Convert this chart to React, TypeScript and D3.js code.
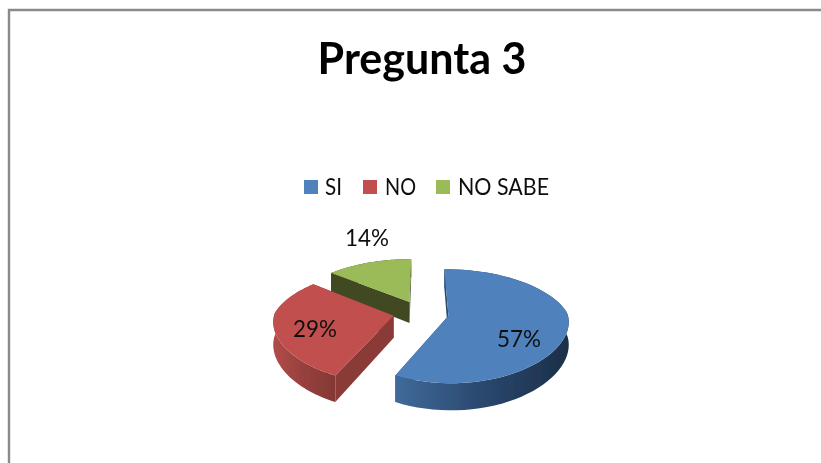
import React from "react";
import * as d3 from "d3";

const categories = ["SI", "NO", "NO SABE"];
const values = [57, 29, 14];
const labels = ["57%", "29%", "14%"];
const topColors = ["#4f81bd", "#c0504d", "#9bbb59"];
const sideColors = ["#2a4a72", "#8a3a38", "#3f4a22"];
const wallStops = [
  ["#406a9b", "#2a486e", "#1b2f48"],
  ["#b24c49", "#96403d", "#843835"],
  ["#3f4a22", "#3f4a22", "#3f4a22"],
];

const W = 821, H = 463;
const cx = 421, cy = 313, R = 119, explode = 28, tilt = 0.455, persp = 0.18, depth = 22;
const font = "Lato, Carlito, 'Open Sans', sans-serif";

const project = (X: number, Y: number, d = 0): [number, number] => {
  const w = 1 / (1 - (persp * Y) / R);
  const xw = w > 1 ? Math.sqrt(w) : w;
  return [cx + X * xw, cy + tilt * Y * w + d * w];
};

const line = d3.line<[number, number]>().curve(d3.curveLinearClosed);

export default function App() {
  const arcs = d3.pie<number>().sort(null).startAngle(0).endAngle(2 * Math.PI)(values);
  const slices = arcs.map((a, i) => {
    const mid = (a.startAngle + a.endAngle) / 2;
    const ex = explode * Math.sin(mid), ey = -explode * Math.cos(mid);
    const pt = (r: number, t: number): [number, number] => [r * Math.sin(t) + ex, -r * Math.cos(t) + ey];
    const angles = d3.range(0, 61).map(k => a.startAngle + ((a.endAngle - a.startAngle) * k) / 60);
    const rim = angles.map(t => pt(R, t));
    const apex = pt(0, 0);
    const top = [project(...apex), ...rim.map(p => project(...p))];
    const outerWall = [...rim.map(p => project(p[0], p[1])), ...rim.slice().reverse().map(p => project(p[0], p[1], depth))];
    const wall = (p: [number, number]) => [project(...apex), project(...p), project(p[0], p[1], depth), project(apex[0], apex[1], depth)];
    const startWall = wall(rim[0]);
    const endWall = wall(rim[rim.length - 1]);
    const xs = outerWall.map(p => p[0]);
    return { i, top, outerWall, startWall, endWall, x0: d3.min(xs)!, x1: d3.max(xs)! };
  });
  const drawOrder = [2, 1, 0];
  const labelPos: [number, number][] = [[519, 347], [315, 337], [367, 246]];
  const labelWidth = 44;
  const legendX = [304, 363, 436];
  const legendTextX = [325, 385, 458];
  const legendTextW = [17, 31, 91];

  return (
    <svg width={W} height={H} style={{ position: "absolute", left: 0, top: 0, background: "#fff" }}>
      <defs>
        {slices.map(s => (
          <linearGradient key={s.i} id={`wall${s.i}`} gradientUnits="userSpaceOnUse" x1={s.x0} x2={s.x1} y1={0} y2={0}>
            {wallStops[s.i].map((c, k) => <stop key={k} offset={k / 2} stopColor={c} />)}
          </linearGradient>
        ))}
        <filter id="soft" x="-5%" y="-5%" width="110%" height="110%"><feGaussianBlur stdDeviation="0.45" /></filter>
      </defs>
      <path d="M9 463V10H821" fill="none" stroke="#8a8a8a" strokeWidth={2.4} />
      <g filter="url(#soft)">
        <text x={422} y={74} textAnchor="middle" fontFamily={font} fontWeight={700} fontSize={43} fill="#000">Pregunta 3</text>
        {categories.map((c, i) => (
          <g key={c}>
            <rect x={legendX[i]} y={180} width={14} height={14} fill={topColors[i]} />
            <text x={legendTextX[i]} y={195} fontFamily={font} fontSize={23} textLength={legendTextW[i]} lengthAdjust="spacingAndGlyphs" fill="#111">{c}</text>
          </g>
        ))}
        {drawOrder.map(i => {
          const s = slices[i];
          return (
            <g key={i}>
              <path d={line(s.startWall)!} fill={sideColors[i]} />
              <path d={line(s.endWall)!} fill={sideColors[i]} />
              <path d={line(s.outerWall)!} fill={`url(#wall${i})`} />
              <path d={line(s.top)!} fill={topColors[i]} />
            </g>
          );
        })}
        {labels.map((l, i) => (
          <text key={l} x={labelPos[i][0] - labelWidth / 2} y={labelPos[i][1]} fontFamily={font} fontSize={23} textLength={labelWidth} lengthAdjust="spacingAndGlyphs" fill="#111">{l}</text>
        ))}
      </g>
    </svg>
  );
}
